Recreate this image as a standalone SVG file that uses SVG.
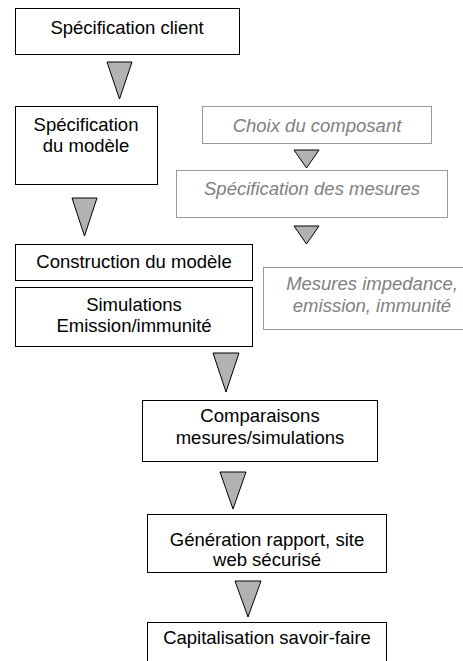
<svg xmlns="http://www.w3.org/2000/svg" width="463" height="661" viewBox="0 0 463 661">
<style>
.box{fill:#fff;stroke:#000;stroke-width:1}
.gbox{fill:#fff;stroke:#999;stroke-width:1}
.t{font-family:"Liberation Sans",Arial,sans-serif;font-size:18.5px;fill:#000;text-anchor:middle}
.g{font-family:"Liberation Sans",Arial,sans-serif;font-size:18.5px;fill:#808080;font-style:italic;text-anchor:middle}
.tri{fill:#b2b2b2;stroke:#000;stroke-width:1}
</style>
<rect width="463" height="661" fill="#fff"/>
<g id="connectors">
<polygon class="tri" points="107,62 132,62 119.5,99"/>
<polygon class="tri" points="72,198 97,198 84.5,236"/>
<polygon class="tri" points="213,353 239,353 226,392"/>
<polygon class="tri" points="220,472 246,472 233,509"/>
<polygon class="tri" points="235,581 261,581 248,617"/>
<polygon class="tri" points="294,150 319,150 306.5,168"/>
<polygon class="tri" points="294,226 319,226 306.5,244"/>
</g>
<g id="spec-client"><rect class="box" x="15.5" y="8.5" width="224" height="46"/><text class="t" x="127" y="34">Spécification client</text></g>
<g id="spec-modele"><rect class="box" x="15.5" y="106.5" width="142" height="78"/><text class="t" x="86" y="131">Spécification</text><text class="t" x="86" y="152">du modèle</text></g>
<g id="construction"><rect class="box" x="15.5" y="244.5" width="237" height="36"/><text class="t" x="134" y="268">Construction du modèle</text></g>
<g id="simulations"><rect class="box" x="15.5" y="287.5" width="237" height="59"/><text class="t" x="134" y="311">Simulations</text><text class="t" x="134" y="332">Emission/immunité</text></g>
<g id="comparaisons"><rect class="box" x="142.5" y="400.5" width="235" height="61"/><text class="t" x="260" y="422">Comparaisons</text><text class="t" x="260" y="444">mesures/simulations</text></g>
<g id="generation"><rect class="box" x="147.5" y="514.5" width="239" height="58"/><text class="t" x="267" y="546">Génération rapport, site</text><text class="t" x="267" y="566">web sécurisé</text></g>
<g id="capitalisation"><rect class="box" x="147.5" y="622.5" width="239" height="60"/><text class="t" x="267" y="644">Capitalisation savoir-faire</text></g>
<g id="choix"><rect class="gbox" x="202.5" y="106.5" width="229" height="37"/><text class="g" x="317" y="132">Choix du composant</text></g>
<g id="spec-mesures"><rect class="gbox" x="176.5" y="170.5" width="271" height="47"/><text class="g" x="312" y="195">Spécification des mesures</text></g>
<g id="mesures"><rect class="gbox" x="263.5" y="267.5" width="210" height="62"/><text class="g" x="372" y="290">Mesures impedance,</text><text class="g" x="372" y="312">emission, immunité</text></g>
</svg>
